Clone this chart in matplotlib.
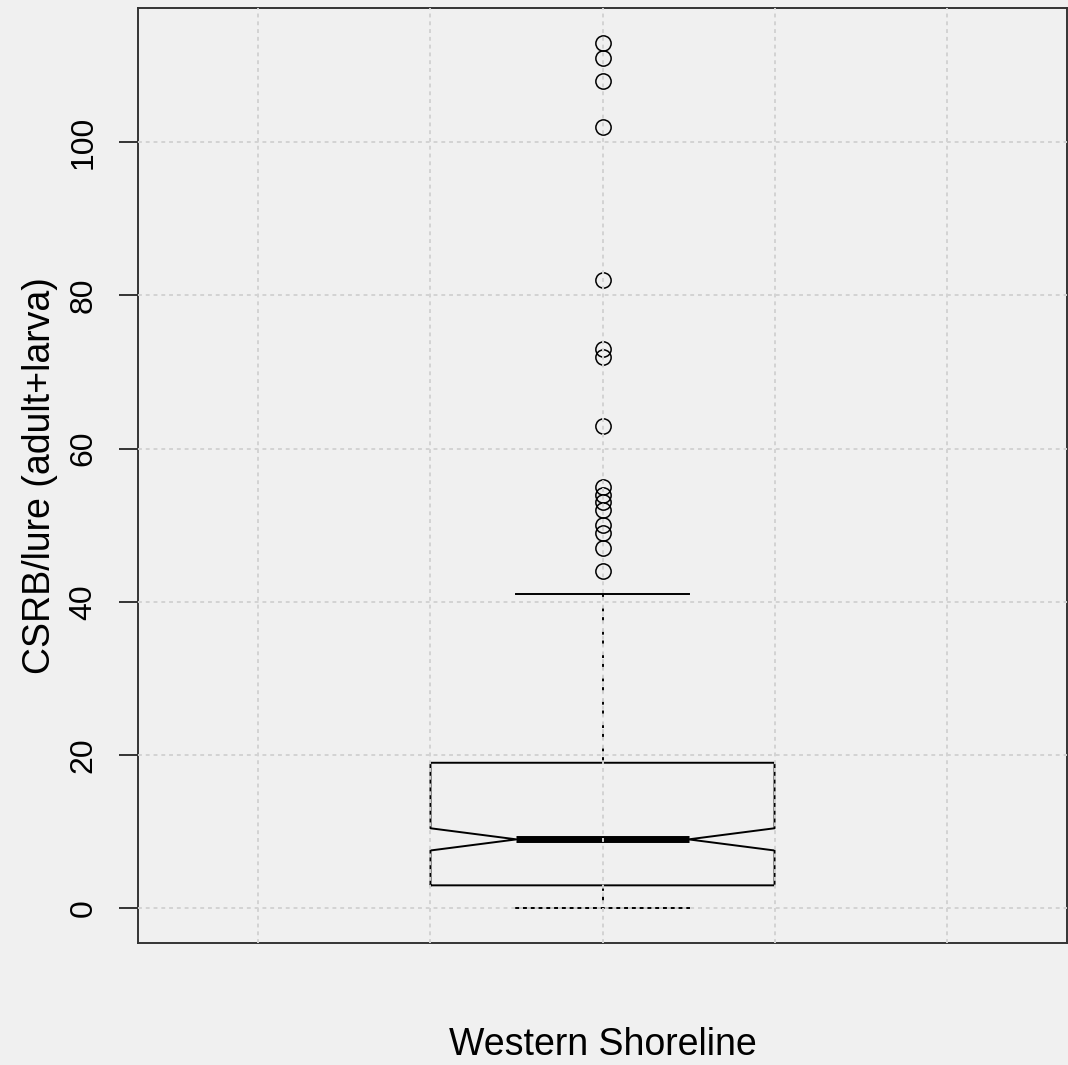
import matplotlib
matplotlib.use('Agg')
import matplotlib.pyplot as plt

# box statistics (CSRB per lure, western shoreline)
group_label = 'Western Shoreline'
q1 = 3
median = 9
q3 = 19
whisker_low = 0
whisker_high = 41
notch_low = 7.55
notch_high = 10.45
outliers = [44, 47, 49, 50, 52, 53, 54, 55, 63, 72, 73, 82, 102, 108, 111, 113]
y_ticks = [0, 20, 40, 60, 80, 100]
x_grid = [0.6, 0.8, 1.0, 1.2, 1.4]

bg = '#f0f0f0'
plt.rcParams['font.family'] = ['Liberation Sans', 'DejaVu Sans']

fig = plt.figure(figsize=(10.68, 10.65), dpi=100, facecolor=bg)
ax = fig.add_axes([0.1292, 0.1146, 0.8699, 0.8779], facecolor=bg)

stats = [{
    'label': group_label,
    'med': median, 'q1': q1, 'q3': q3,
    'whislo': whisker_low, 'whishi': whisker_high,
    'cilo': notch_low, 'cihi': notch_high,
    'fliers': outliers,
}]

ax.bxp(stats, positions=[1], widths=0.4, shownotches=True, manage_ticks=False,
       boxprops=dict(color='black', lw=1.4),
       whiskerprops=dict(color='black', lw=1.4, linestyle=(0, (3, 3))),
       capprops=dict(color='black', lw=1.4),
       medianprops=dict(color='black', lw=5, solid_capstyle='butt'),
       flierprops=dict(marker='o', markerfacecolor='none', markeredgecolor='black',
                       markersize=11, markeredgewidth=1.1, linestyle='none'))

ax.set_xlim(0.46, 1.54)
ax.set_ylim(-4.52, 117.52)

# grid sits on top of the boxes, like R's grid() called after boxplot()
ax.set_axisbelow(False)
ax.set_xticks(x_grid)
ax.set_yticks(y_ticks)
ax.grid(True, color='#d3d3d3', lw=1.4, linestyle=(0, (2, 2)))

ax.tick_params(axis='x', length=0, labelbottom=False)
ax.tick_params(axis='y', length=13.5, width=1.4, color='#333333', pad=15, labelsize=23)
for lab in ax.get_yticklabels():
    lab.set_rotation(90)
    lab.set_va('center')

for sp in ax.spines.values():
    sp.set_color('#333333')
    sp.set_linewidth(1.4)

ax.set_ylabel('CSRB/lure (adult+larva)', fontsize=27, va='center')
ax.yaxis.set_label_coords(-0.106, 0.5)
ax.set_xlabel(group_label, fontsize=27, va='center')
ax.xaxis.set_label_coords(0.5, -0.109)

fig.savefig('out.png', dpi=100, facecolor=bg)
